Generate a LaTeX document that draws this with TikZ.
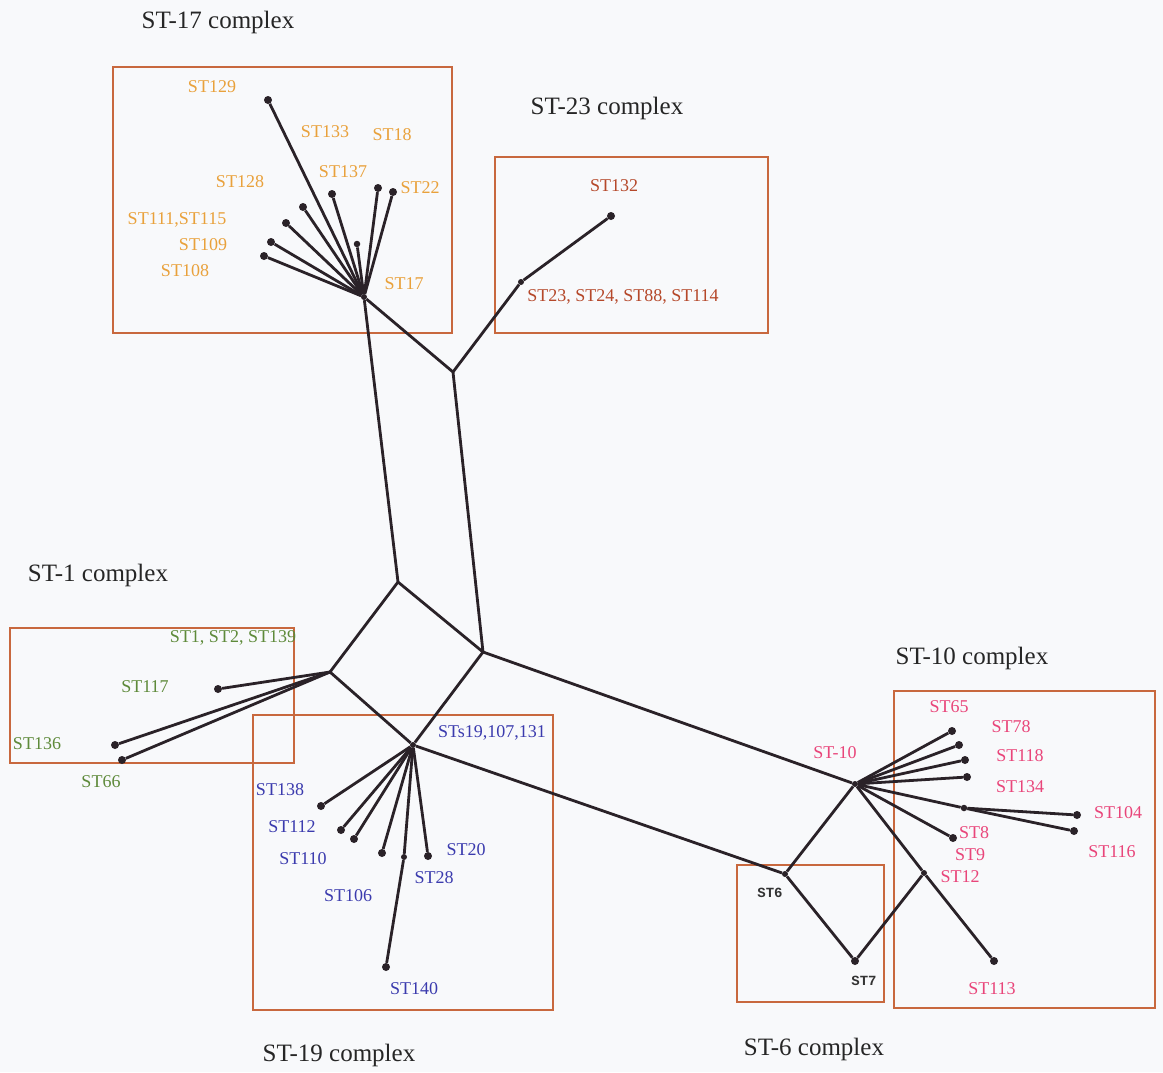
\documentclass[tikz,border=0pt]{standalone}
\usepackage{fontspec}
\setmainfont{Liberation Serif}
\newfontfamily\monofont{Liberation Mono}
\definecolor{cOrange}{HTML}{E9A13B}
\definecolor{cBrick}{HTML}{B5482A}
\definecolor{cGreen}{HTML}{5E8A3A}
\definecolor{cBlue}{HTML}{3B3BAE}
\definecolor{cPink}{HTML}{E9457A}
\definecolor{cBox}{HTML}{C8683E}
\definecolor{cLine}{HTML}{2A2228}
\definecolor{cBg}{HTML}{F8F9FB}
\begin{document}
\begin{tikzpicture}[x=1pt,y=-1pt,
  dot/.style={circle,fill=cLine,inner sep=0pt,minimum size=8pt},
  edge/.style={draw=cLine,line width=2.8pt},
  cbox/.style={draw=cBox,line width=1.3pt},
  title/.style={font=\fontsize{25}{27}\selectfont,text=black!85},
  lab/.style={font=\fontsize{18}{20}\selectfont,inner sep=0pt},
  orl/.style={lab,text=cOrange},
  brl/.style={lab,text=cBrick},
  grl/.style={lab,text=cGreen},
  bll/.style={lab,text=cBlue},
  pkl/.style={lab,text=cPink},
  mol/.style={font=\monofont\bfseries\fontsize{14}{16}\selectfont,text=black!80,inner sep=0pt}]
\useasboundingbox[fill=cBg] (0,0) rectangle (1163,1072);

% complex boxes
\draw[cbox] (113,67) rectangle (452,333);
\draw[cbox] (495,157) rectangle (768,333);
\draw[cbox] (10,628) rectangle (294,763);
\draw[cbox] (253,715) rectangle (553,1010);
\draw[cbox] (894,691) rectangle (1155,1008);
\draw[cbox] (737,865) rectangle (884,1002);

% titles
\node[title] (t17) at (218,22) {ST-17 complex};
\node[title] (t23) at (607,108) {ST-23 complex};
\node[title] (t1)  at (98,575) {ST-1 complex};
\node[title] (t19) at (339,1055) {ST-19 complex};
\node[title] (t10) at (972,658) {ST-10 complex};
\node[title] (t6)  at (814,1049) {ST-6 complex};

% internal junctions
\coordinate (A) at (453,372);
\coordinate (B) at (398,582);
\coordinate (C) at (483,652);
\coordinate (D) at (330,672);

% hubs and sequence types
\node[dot,minimum size=6pt] (h17) at (364,297) {};
\node[dot,minimum size=6pt] (h19) at (413,745) {};
\node[dot,minimum size=6pt] (h10) at (855,784) {};
\node[dot,minimum size=6pt] (n23) at (521,282) {};
\node[dot] (n132) at (611,216) {};

% ST-17 complex leaves
\node[dot] (n129) at (268,100) {};
\node[dot] (n137) at (332,194) {};
\node[dot] (n18)  at (378,188) {};
\node[dot] (n22)  at (393,192) {};
\node[dot] (n128) at (303,207) {};
\node[dot] (n111) at (286,223) {};
\node[dot] (n109) at (271,242) {};
\node[dot] (n108) at (264,256) {};
\node[dot,minimum size=6.5pt] (n133) at (357,244) {};

% ST-1 complex leaves
\node[dot] (n117) at (218,689) {};
\node[dot] (n136) at (115,745) {};
\node[dot] (n66)  at (122,760) {};

% ST-19 complex leaves
\node[dot] (n138) at (321,806) {};
\node[dot] (n112) at (341,830) {};
\node[dot] (n110) at (354,839) {};
\node[dot] (n106) at (382,853) {};
\node[dot,minimum size=6pt] (n28) at (404,857) {};
\node[dot] (n20)  at (428,856) {};
\node[dot] (n140) at (386,967) {};

% ST-10 and ST-6 complexes
\node[dot] (n65)  at (952,731) {};
\node[dot] (n78)  at (959,745) {};
\node[dot] (n118) at (965,760) {};
\node[dot] (n134) at (967,777) {};
\node[dot,minimum size=6.5pt] (m)  at (964,808) {};
\node[dot] (n104) at (1077,815) {};
\node[dot] (n116) at (1074,831) {};
\node[dot] (n8)   at (953,838) {};
\node[dot,minimum size=6pt] (n12) at (924,873) {};
\node[dot] (n113) at (994,961) {};
\node[dot,minimum size=6pt] (n6) at (785,874) {};
\node[dot] (n7)   at (855,961) {};

% backbone
\draw[edge,line join=round] (h17) -- (B) -- (C) -- (A) -- (h17);
\draw[edge] (A) -- (n23) -- (n132);
\draw[edge,line join=round] (B) -- (D) -- (h19);
\draw[edge] (C) -- (h19);
\draw[edge] (C) -- (h10);
\draw[edge] (h19) -- (n6) -- (h10);
\draw[edge] (n6) -- (n7) -- (n12);
\draw[edge] (h10) -- (n12) -- (n113);

% ST-17 spokes
\foreach \n in {n129,n137,n18,n22,n128,n111,n109,n108,n133}
  \draw[edge] (h17) -- (\n);
% ST-1 spokes
\foreach \n in {n117,n136,n66}
  \draw[edge] (D) -- (\n);
% ST-19 spokes
\foreach \n in {n138,n112,n110,n106,n28,n20}
  \draw[edge] (h19) -- (\n);
\draw[edge] (n28) -- (n140);
% ST-10 spokes
\foreach \n in {n65,n78,n118,n134,m,n8}
  \draw[edge] (h10) -- (\n);
\draw[edge] (m) -- (n104);
\draw[edge] (m) -- (n116);

% ST-17 labels
\node[orl] (l129) at (212,87) {ST129};
\node[orl] (l133) at (325,132) {ST133};
\node[orl] (l18)  at (392,135) {ST18};
\node[orl] (l128) at (240,182) {ST128};
\node[orl] (l137) at (343,172) {ST137};
\node[orl] (l22)  at (420,188) {ST22};
\node[orl] (l111) at (177,220) {ST111,ST115};
\node[orl] (l109) at (203,245) {ST109};
\node[orl] (l108) at (185,271) {ST108};
\node[orl] (l17)  at (404,284) {ST17};

% ST-23 labels
\node[brl] (l132) at (614,186) {ST132};
\node[brl] (l23)  at (623,297) {ST23, ST24, ST88, ST114};

% ST-1 labels
\node[grl] (l1)   at (233,638) {ST1, ST2, ST139};
\node[grl] (l117) at (145,687) {ST117};
\node[grl] (l136) at (37,744) {ST136};
\node[grl] (l66)  at (101,782) {ST66};

% ST-19 labels
\node[bll] (l19)  at (492,733) {STs19,107,131};
\node[bll] (l138) at (280,790) {ST138};
\node[bll] (l112) at (292,827) {ST112};
\node[bll] (l110) at (303,859) {ST110};
\node[bll] (l106) at (348,896) {ST106};
\node[bll] (l28)  at (434,878) {ST28};
\node[bll] (l20)  at (466,850) {ST20};
\node[bll] (l140) at (414,989) {ST140};

% ST-10 labels
\node[pkl] (l10)  at (835,753) {ST-10};
\node[pkl] (l65)  at (949,707) {ST65};
\node[pkl] (l78)  at (1011,727) {ST78};
\node[pkl] (l118) at (1020,756) {ST118};
\node[pkl] (l134) at (1020,787) {ST134};
\node[pkl] (l104) at (1118,813) {ST104};
\node[pkl] (l116) at (1112,852) {ST116};
\node[pkl] (l8)   at (974,833) {ST8};
\node[pkl] (l9)   at (970,855) {ST9};
\node[pkl] (l12)  at (960,877) {ST12};
\node[pkl] (l113) at (992,989) {ST113};

% ST-6 labels
\node[mol] (l6) at (770,893) {ST6};
\node[mol] (l7) at (864,981) {ST7};
\end{tikzpicture}
\end{document}
